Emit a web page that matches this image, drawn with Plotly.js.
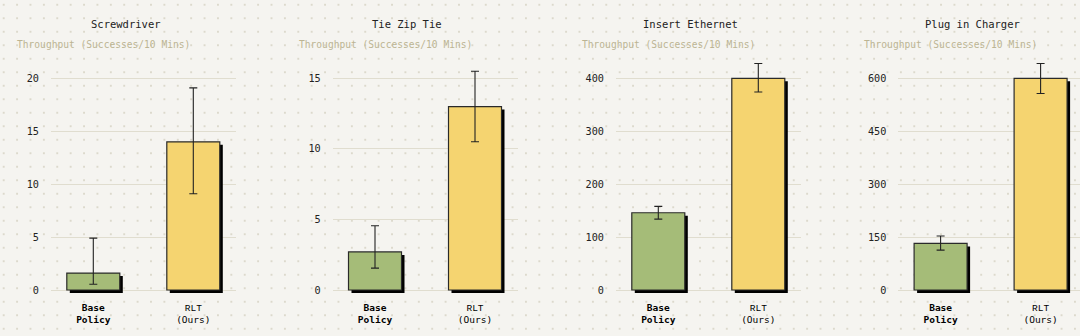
<!DOCTYPE html>
<html>
<head>
<meta charset="utf-8">
<script src="https://cdn.plot.ly/plotly-3.0.1.min.js"></script>
<style>
html,body{margin:0;padding:0;overflow:hidden;width:1080px;height:336px;}
body{
  background-color:#f5f4f0;
  background-image:radial-gradient(circle, #dcd9cc 0.8px, rgba(0,0,0,0) 1.2px);
  background-size:13.4px 13.5px;
  background-position:-3px -2px;
}
#chart{width:1080px;height:336px;}
</style>
</head>
<body>
<div id="chart"></div>
<script>
// ---- data ----
const tasks = ['Screwdriver', 'Tie Zip Tie', 'Insert Ethernet', 'Plug in Charger'];
const categories = ['Base<br>Policy', 'RLT<br>(Ours)'];
const baseMean = [1.6, 2.7, 146, 132];
const baseErrPlus = [3.3, 1.85, 12, 21];
const baseErrMinus = [1.05, 1.15, 12, 19];
const rltMean = [14.0, 13.0, 400, 600];
const rltErrPlus = [5.1, 2.5, 28, 42];
const rltErrMinus = [4.9, 2.5, 26, 43];
const tickStep = [5, 5, 100, 150];
const tickMax = [20, 15, 400, 600];
const subtitle = 'Throughput (Successes/10 Mins)';

// ---- layout constants (pixels) ----
const W = 1080, H = 336;
const gridStart = [51, 332.7, 616, 898.3];
const gridWidth = 185;
const pxPerCat = 100;
const catOffset = 42.3;   // px from grid start to first category center
const plotTop = 55, zeroY = 290, plotBottom = 296;
const maxTickY = 78.3;
const barWidth = 0.53;
const shadowPx = 3;

const colors = ['#a5bc78', '#f5d470'];
const fontMono = '"DejaVu Sans Mono", "Liberation Mono", monospace';
const tickText = [
  '<b>' + categories[0] + '</b>',
  '<span style="font-family:Liberation Mono">RLT</span><br>(Ours)'
];

const data = [];
const layout = {
  width: W, height: H,
  margin: {l: 0, r: 0, t: 0, b: 0},
  paper_bgcolor: 'rgba(0,0,0,0)',
  plot_bgcolor: 'rgba(0,0,0,0)',
  showlegend: false,
  font: {family: fontMono, color: '#333'},
  annotations: []
};

tasks.forEach((task, i) => {
  const ax = i === 0 ? '' : String(i + 1);
  const xa = 'x' + ax, ya = 'y' + ax;
  const x0 = gridStart[i];
  const x1 = Math.min(x0 + gridWidth, W);
  const pxPerUnit = (zeroY - maxTickY) / tickMax[i];
  const yTop = (zeroY - plotTop) / pxPerUnit;
  const yBot = -(plotBottom - zeroY) / pxPerUnit;
  const r0 = -catOffset / pxPerCat;
  const r1 = r0 + (x1 - x0) / pxPerCat;
  const shadowY = shadowPx / pxPerUnit;
  const shadowX = shadowPx / pxPerCat;

  const vals = [baseMean[i], rltMean[i]];
  const errP = [baseErrPlus[i], rltErrPlus[i]];
  const errM = [baseErrMinus[i], rltErrMinus[i]];

  // shadow bars
  data.push({
    type: 'bar', x: [0, 1], y: vals, xaxis: xa, yaxis: ya,
    base: [-shadowY, -shadowY],
    width: barWidth, offset: -barWidth / 2 + shadowX,
    marker: {color: '#000', line: {width: 0}},
    cliponaxis: false, hoverinfo: 'skip'
  });
  // main bars
  data.push({
    type: 'bar', x: [0, 1], y: vals, xaxis: xa, yaxis: ya,
    width: barWidth,
    marker: {color: colors, line: {color: '#2a2a2a', width: 1.2}},
    error_y: {type: 'data', symmetric: false, array: errP, arrayminus: errM,
              color: '#222', thickness: 1.1, width: 4},
    cliponaxis: false, hoverinfo: 'skip'
  });

  layout['xaxis' + ax] = {
    domain: [x0 / W, x1 / W],
    range: [r0, r1],
    anchor: ya,
    tickvals: [0, 1],
    ticktext: tickText,
    tickfont: {family: fontMono, size: 9.5, color: '#000'},
    showgrid: false, zeroline: false, showline: false,
    ticks: '', ticklabelstandoff: 4,
    fixedrange: true
  };
  layout['yaxis' + ax] = {
    domain: [(H - plotBottom) / H, (H - plotTop) / H],
    range: [yBot, yTop],
    anchor: xa,
    tick0: 0, dtick: tickStep[i],
    tickfont: {family: fontMono, size: 10.2, color: '#222'},
    showgrid: true, gridcolor: '#e0ddcf', gridwidth: 1,
    zeroline: true, zerolinecolor: '#e0ddcf', zerolinewidth: 1,
    showline: false, ticks: '', ticklabelstandoff: 11,
    fixedrange: true
  };

  layout.annotations.push({
    xref: 'paper', yref: 'paper',
    x: (x0 + gridWidth / 2 - 18) / W, y: (H - 24) / H,
    text: task, showarrow: false, xanchor: 'center', yanchor: 'middle',
    font: {family: fontMono, size: 10.5, color: '#222'}
  });
  layout.annotations.push({
    xref: 'paper', yref: 'paper',
    x: (x0 - 36) / W, y: (H - 44.5) / H,
    text: subtitle, showarrow: false, xanchor: 'left', yanchor: 'middle',
    font: {family: fontMono, size: 9.6, color: '#bcb493'}
  });
});

Plotly.newPlot('chart', data, layout, {staticPlot: true, displayModeBar: false});
</script>
</body>
</html>
